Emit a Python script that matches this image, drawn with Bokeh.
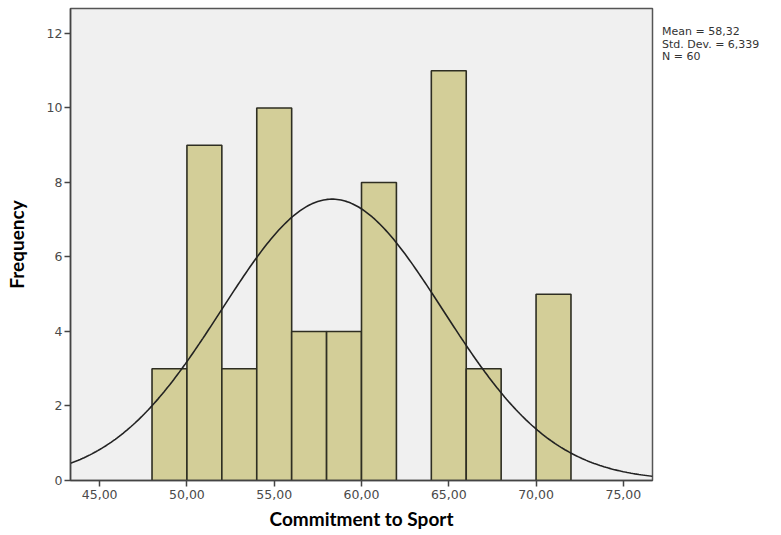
import numpy as np
from bokeh.plotting import figure
from bokeh.models import FixedTicker, Range1d, Div
from bokeh.layouts import row
from bokeh.embed import file_html
from bokeh.resources import INLINE

# Histogram data (bin edges width 2)
bin_left = [48, 50, 52, 54, 56, 58, 60, 62, 64, 66, 68, 70]
bin_right = [50, 52, 54, 56, 58, 60, 62, 64, 66, 68, 70, 72]
counts = [3, 9, 3, 10, 4, 4, 8, 0, 11, 3, 0, 5]

mean_val = 58.32
std_val = 6.339
n_val = 60
bin_width = 2

x_ticks = [45, 50, 55, 60, 65, 70, 75]
x_tick_labels = {45: "45,00", 50: "50,00", 55: "55,00", 60: "60,00", 65: "65,00", 70: "70,00", 75: "75,00"}
y_ticks = [0, 2, 4, 6, 8, 10, 12]
stats = ["Mean = 58,32", "Std. Dev. = 6,339", "N = 60"]

p = figure(width=660, height=535, output_backend="svg", toolbar_location=None,
           x_range=Range1d(43.33, 76.67), y_range=Range1d(0, 12.67),
           min_border_left=70, min_border_right=8, min_border_top=8, min_border_bottom=55,
           frame_width=582, frame_height=472)

p.background_fill_color = "#F0F0F0"
p.border_fill_color = "white"
p.outline_line_color = "#555555"
p.outline_line_width = 1.5
p.grid.visible = False

# bars (skip zero-count bins)
L = [l for l, c in zip(bin_left, counts) if c > 0]
R = [r for r, c in zip(bin_right, counts) if c > 0]
C = [c for c in counts if c > 0]
p.quad(left=L, right=R, bottom=0, top=C, fill_color="#D3CE98",
       line_color="#2E2E22", line_width=1.6)

# fitted normal curve
xs = np.linspace(43.33, 76.67, 300)
ys = n_val * bin_width / (std_val * np.sqrt(2 * np.pi)) * np.exp(-0.5 * ((xs - mean_val) / std_val) ** 2)
p.line(xs, ys, line_color="#222222", line_width=1.6)

# axes
for ax in (p.xaxis[0], p.yaxis[0]):
    ax.axis_line_color = "#444444"
    ax.axis_line_width = 1.5
    ax.major_tick_line_color = "#444444"
    ax.major_tick_line_width = 1.5
    ax.major_tick_out = 6
    ax.major_tick_in = 0
    ax.minor_tick_line_color = None
    ax.major_label_text_font = "DejaVu Sans"
    ax.major_label_text_font_size = "12.5px"
    ax.major_label_text_color = "#4A4A4A"
    ax.axis_label_text_font = "Lato"
    ax.axis_label_text_font_style = "bold"
    ax.axis_label_text_font_size = "19px"
    ax.axis_label_text_color = "#000000"

p.xaxis.ticker = FixedTicker(ticks=x_ticks)
p.xaxis.major_label_overrides = x_tick_labels
p.xaxis.major_label_standoff = 3
p.xaxis.axis_label = "Commitment to Sport"
p.xaxis.axis_label_standoff = 5

p.yaxis.ticker = FixedTicker(ticks=y_ticks)
p.yaxis.major_label_standoff = 2
p.yaxis.axis_label = "Frequency"
p.yaxis.axis_label_standoff = 16

# stats annotation (outside the plot frame)
div = Div(text="<br>".join(stats), width=121, height=535, margin=(0, 0, 0, 0),
          styles={"font-family": "'DejaVu Sans'", "font-size": "11px",
                  "line-height": "12.5px", "color": "#333333",
                  "padding-top": "26px", "padding-left": "2px",
                  "white-space": "nowrap"})

layout = row(p, div, spacing=0)
open("out.html", "w").write(file_html(layout, INLINE))
